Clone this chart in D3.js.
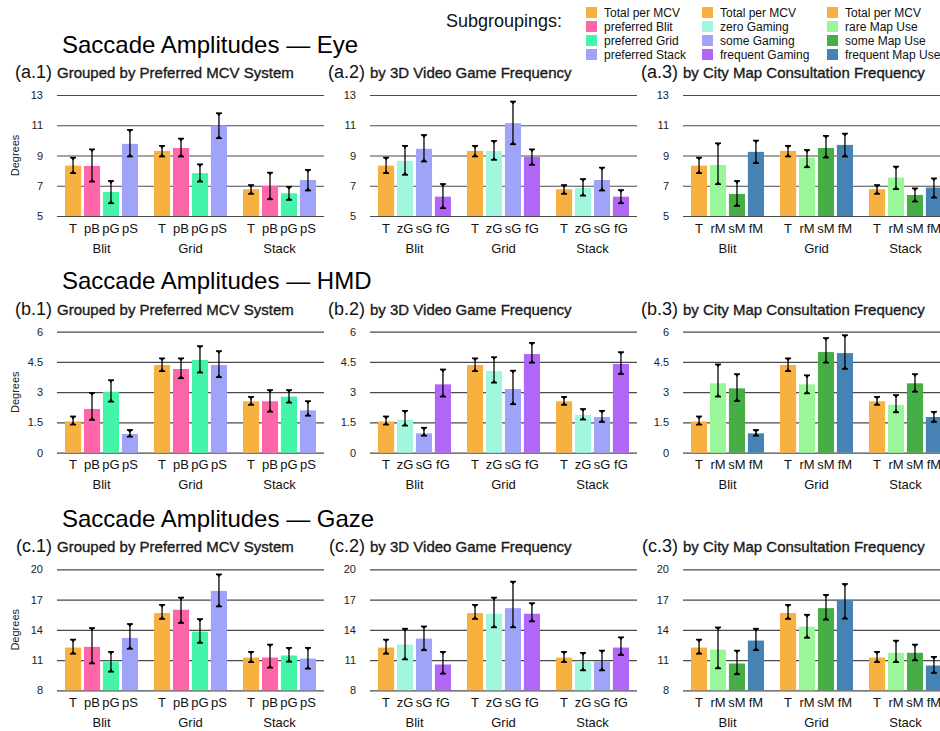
<!DOCTYPE html>
<html>
<head>
<meta charset="utf-8">
<script src="https://cdn.jsdelivr.net/npm/d3@7"></script>
<style>
  html, body { margin: 0; padding: 0; background: #fff; }
  svg { display: block; font-family: "Liberation Sans", Arial, Helvetica, sans-serif; }
</style>
</head>
<body>
<svg id="chart" width="940" height="731"></svg>
<script>
// ---------------- DATA ----------------
const groups = ["Blit", "Grid", "Stack"];
const mcvLabels  = ["T", "pB", "pG", "pS"];
const gameLabels = ["T", "zG", "sG", "fG"];
const mapLabels  = ["T", "rM", "sM", "fM"];

const mcvLegend  = ["Total per MCV", "preferred Blit", "preferred Grid", "preferred Stack"];
const gameLegend = ["Total per MCV", "zero Gaming", "some Gaming", "frequent Gaming"];
const mapLegend  = ["Total per MCV", "rare Map Use", "some Map Use", "frequent Map Use"];

const rowTitles = ["Saccade Amplitudes \u2014 Eye", "Saccade Amplitudes \u2014 HMD", "Saccade Amplitudes \u2014 Gaze"];
const colSubtitles = ["Grouped by Preferred MCV System", "by 3D Video Game Frequency", "by City Map Consultation Frequency"];
const rowLetters = ["a", "b", "c"];

const eyeTicks  = [5, 7, 9, 11, 13];
const hmdTicks  = [0, 1.5, 3, 4.5, 6];
const gazeTicks = [8, 11, 14, 17, 20];

// Eye – by MCV
const eyeMcvMean = [[8.33, 8.31, 6.59, 9.77], [9.30, 9.50, 7.83, 10.98], [6.77, 6.99, 6.50, 7.38]];
const eyeMcvLo   = [[7.83, 7.27, 5.84, 8.93], [8.93, 8.93, 7.27, 10.14], [6.46, 6.10, 6.06, 6.68]];
const eyeMcvHi   = [[8.86, 9.41, 7.32, 10.70], [9.64, 10.12, 8.42, 11.80], [7.05, 7.87, 6.94, 8.05]];
// Eye – by Game
const eyeGameMean = [[8.33, 8.64, 9.44, 6.28], [9.30, 9.30, 11.14, 8.91], [6.77, 6.85, 7.38, 6.28]];
const eyeGameLo   = [[7.83, 7.72, 8.60, 5.51], [8.93, 8.71, 9.74, 8.38], [6.46, 6.34, 6.68, 5.84]];
const eyeGameHi   = [[8.86, 9.64, 10.36, 7.12], [9.64, 9.97, 12.57, 9.41], [7.05, 7.45, 8.20, 6.72]];
// Eye – by Map
const eyeMapMean = [[8.33, 8.38, 6.46, 9.24], [9.30, 8.86, 9.50, 9.70], [6.77, 7.54, 6.39, 6.88]];
const eyeMapLo   = [[7.83, 7.10, 5.66, 8.49], [8.93, 8.22, 8.86, 8.93], [6.46, 6.77, 5.95, 6.21]];
const eyeMapHi   = [[8.86, 9.81, 7.32, 9.99], [9.64, 9.37, 10.30, 10.45], [7.05, 8.27, 6.83, 7.49]];

// HMD – by MCV
const hmdMcvMean = [[1.55, 2.17, 3.02, 0.93], [4.35, 4.15, 4.60, 4.35], [2.55, 2.55, 2.78, 2.10]];
const hmdMcvLo   = [[1.39, 1.62, 2.53, 0.79], [4.04, 3.69, 3.97, 3.74], [2.37, 2.03, 2.48, 1.83]];
const hmdMcvHi   = [[1.80, 2.97, 3.60, 1.13], [4.68, 4.68, 5.29, 5.04], [2.77, 3.11, 3.11, 2.56]];
// HMD – by Game
const hmdGameMean = [[1.55, 1.62, 0.96, 3.39], [4.35, 4.05, 3.16, 4.89], [2.55, 1.87, 1.77, 4.40]];
const hmdGameLo   = [[1.39, 1.34, 0.84, 2.78], [4.04, 3.47, 2.40, 4.46], [2.37, 1.64, 1.52, 3.90]];
const hmdGameHi   = [[1.80, 2.08, 1.24, 4.13], [4.68, 4.74, 4.07, 5.45], [2.77, 2.17, 2.08, 4.99]];
// HMD – by Map
const hmdMapMean = [[1.55, 3.44, 3.19, 0.96], [4.35, 3.39, 4.99, 4.94], [2.55, 2.37, 3.44, 1.77]];
const hmdMapLo   = [[1.39, 2.78, 2.56, 0.84], [4.04, 2.94, 4.46, 4.15], [2.37, 2.00, 3.02, 1.52]];
const hmdMapHi   = [[1.80, 4.38, 3.90, 1.13], [4.68, 3.84, 5.69, 5.83], [2.77, 2.86, 3.90, 2.03]];

// Gaze – by MCV
const gazeMcvMean = [[12.24, 12.31, 10.83, 13.20], [15.66, 15.99, 13.82, 17.86], [11.25, 11.25, 11.45, 11.15]];
const gazeMcvLo   = [[11.62, 10.66, 9.84, 12.11], [15.07, 14.67, 12.70, 16.31], [10.79, 10.24, 10.83, 10.14]];
const gazeMcvHi   = [[13.03, 14.18, 11.82, 14.58], [16.48, 17.20, 15.07, 19.50], [11.82, 12.54, 12.21, 12.21]];
// Gaze – by Game
const gazeGameMean = [[12.24, 12.54, 13.13, 10.56], [15.66, 15.59, 16.15, 15.59], [11.25, 10.89, 10.89, 12.24]];
const gazeGameLo   = [[11.62, 11.06, 11.97, 9.64], [15.07, 14.24, 14.24, 14.83], [10.79, 9.97, 9.97, 11.49]];
const gazeGameHi   = [[13.03, 14.11, 14.34, 11.82], [16.48, 17.20, 18.78, 16.65], [11.82, 11.72, 11.94, 13.26]];
// Gaze – by Map
const gazeMapMean = [[12.24, 12.04, 10.66, 12.93], [15.66, 14.31, 16.15, 16.97], [11.25, 11.72, 11.72, 10.46]];
const gazeMapLo   = [[11.62, 10.17, 9.58, 11.97], [15.07, 13.20, 15.00, 15.10], [10.79, 10.79, 10.96, 9.71]];
const gazeMapHi   = [[13.03, 14.24, 11.94, 14.11], [16.48, 15.50, 17.47, 18.55], [11.82, 12.93, 12.54, 11.32]];

// ---------------- STYLE ----------------
const mcvColors  = ["#F7B141", "#FF66AA", "#44F5A9", "#A0A4F8"];
const gameColors = ["#F7B141", "#A0F7DE", "#A0A4F8", "#B066F7"];
const mapColors  = ["#F7B141", "#99F799", "#47AD47", "#4682B4"];

const colLefts = [57, 370, 683];
const rowTops = [95, 331.7, 569.3];
const plotW = 267, plotH = 121;

const rowTicks = [eyeTicks, hmdTicks, gazeTicks];
const colLabels = [mcvLabels, gameLabels, mapLabels];
const colColors = [mcvColors, gameColors, mapColors];
const panelData = [
  [[eyeMcvMean, eyeMcvLo, eyeMcvHi], [eyeGameMean, eyeGameLo, eyeGameHi], [eyeMapMean, eyeMapLo, eyeMapHi]],
  [[hmdMcvMean, hmdMcvLo, hmdMcvHi], [hmdGameMean, hmdGameLo, hmdGameHi], [hmdMapMean, hmdMapLo, hmdMapHi]],
  [[gazeMcvMean, gazeMcvLo, gazeMcvHi], [gazeGameMean, gazeGameLo, gazeGameHi], [gazeMapMean, gazeMapLo, gazeMapHi]]
];

const svg = d3.select("#chart");

// ---------------- LEGEND ----------------
svg.append("text").attr("x", 446).attr("y", 27)
  .attr("font-size", 18).attr("fill", "#111").text("Subgroupings:");
const legCols = [[mcvLegend, mcvColors, 586], [gameLegend, gameColors, 702], [mapLegend, mapColors, 827]];
legCols.forEach(([names, cols, lx]) => {
  names.forEach((n, i) => {
    const ty = 7 + i * 14;
    svg.append("rect").attr("x", lx).attr("y", ty).attr("width", 11).attr("height", 11).attr("fill", cols[i]);
    svg.append("text").attr("x", lx + 18).attr("y", ty + 10)
      .attr("font-size", 12).attr("fill", "#111").text(n);
  });
});

// ---------------- PANELS ----------------
rowTops.forEach((top, r) => {
  svg.append("text").attr("x", 62).attr("y", top - 42.5)
    .attr("font-size", 24).attr("fill", "#000").text(rowTitles[r]);

  const extent = d3.extent(rowTicks[r]);
  const y = d3.scaleLinear().domain(extent).range([plotH, 0]);

  colLefts.forEach((left, c) => {
    const g = svg.append("g").attr("transform", `translate(${left},${top})`);

    // subtitle
    svg.append("text").attr("x", left - 5).attr("y", top - 17)
      .attr("text-anchor", "end").attr("font-size", 18).attr("fill", "#111")
      .text(`(${rowLetters[r]}.${c + 1})`);
    svg.append("text").attr("x", left).attr("y", top - 17)
      .attr("font-size", 15).attr("fill", "#1a1a1a")
      .attr("stroke", "#1a1a1a").attr("stroke-width", 0.35)
      .text(colSubtitles[c]);

    // axis + gridlines
    const ax = g.append("g").call(
      d3.axisLeft(y).tickValues(rowTicks[r]).tickSize(-plotW).tickPadding(14)
        .tickFormat(d => String(d))
    );
    ax.select(".domain").remove();
    ax.selectAll(".tick line").attr("stroke", "#4a4a4a").attr("stroke-width", 1.2);
    ax.selectAll(".tick text").attr("font-size", 11).attr("fill", "#222")
      .attr("font-family", "Liberation Sans, Arial, sans-serif");

    if (c === 0) {
      svg.append("text")
        .attr("transform", `translate(${19},${top + plotH / 2}) rotate(-90)`)
        .attr("text-anchor", "middle").attr("font-size", 11).attr("fill", "#222")
        .text("Degrees");
    }

    const x0 = d3.scaleBand().domain(groups).range([0, plotW]).paddingInner(0.18).paddingOuter(0.09);
    const x1 = d3.scaleBand().domain(d3.range(4)).range([0, x0.bandwidth()]).paddingInner(0.15);
    const color = d3.scaleOrdinal().domain(d3.range(4)).range(colColors[c]);

    const [means, los, his] = panelData[r][c];
    const rows = [];
    groups.forEach((gr, gi) => {
      for (let k = 0; k < 4; k++) {
        rows.push({ group: gr, k, mean: means[gi][k], lo: los[gi][k], hi: his[gi][k] });
      }
    });

    const bars = g.append("g");
    bars.selectAll("rect").data(rows).join("rect")
      .attr("x", d => x0(d.group) + x1(d.k))
      .attr("width", x1.bandwidth())
      .attr("y", d => y(d.mean))
      .attr("height", d => plotH - y(d.mean))
      .attr("fill", d => color(d.k));

    // error bars
    const eb = g.append("g").attr("stroke", "#000");
    rows.forEach(d => {
      const cx = x0(d.group) + x1(d.k) + x1.bandwidth() / 2;
      const yh = y(d.hi), yl = y(d.lo);
      eb.append("line").attr("x1", cx).attr("x2", cx).attr("y1", yh).attr("y2", yl)
        .attr("stroke-width", 1.5).attr("stroke-opacity", 0.85);
      eb.append("line").attr("x1", cx - 3).attr("x2", cx + 3).attr("y1", yh).attr("y2", yh).attr("stroke-width", 1.6);
      eb.append("line").attr("x1", cx - 3).attr("x2", cx + 3).attr("y1", yl).attr("y2", yl).attr("stroke-width", 1.6);
      eb.append("path").attr("d", `M${cx - 2.5},${yh} L${cx + 2.5},${yh} L${cx},${yh + 3} Z`)
        .attr("fill", "#000").attr("stroke", "none");
      eb.append("path").attr("d", `M${cx - 2.5},${yl} L${cx + 2.5},${yl} L${cx},${yl - 3} Z`)
        .attr("fill", "#000").attr("stroke", "none");
    });

    // subgroup labels
    g.append("g").selectAll("text").data(rows).join("text")
      .attr("x", d => x0(d.group) + x1(d.k) + x1.bandwidth() / 2)
      .attr("y", plotH + 16.5)
      .attr("text-anchor", "middle").attr("font-size", 13).attr("fill", "#111")
      .text(d => colLabels[c][d.k]);

    // group labels
    g.append("g").selectAll("text").data(groups).join("text")
      .attr("x", d => x0(d) + x0.bandwidth() / 2)
      .attr("y", plotH + 36.5)
      .attr("text-anchor", "middle").attr("font-size", 13).attr("fill", "#111")
      .text(d => d);
  });
});
</script>
</body>
</html>
